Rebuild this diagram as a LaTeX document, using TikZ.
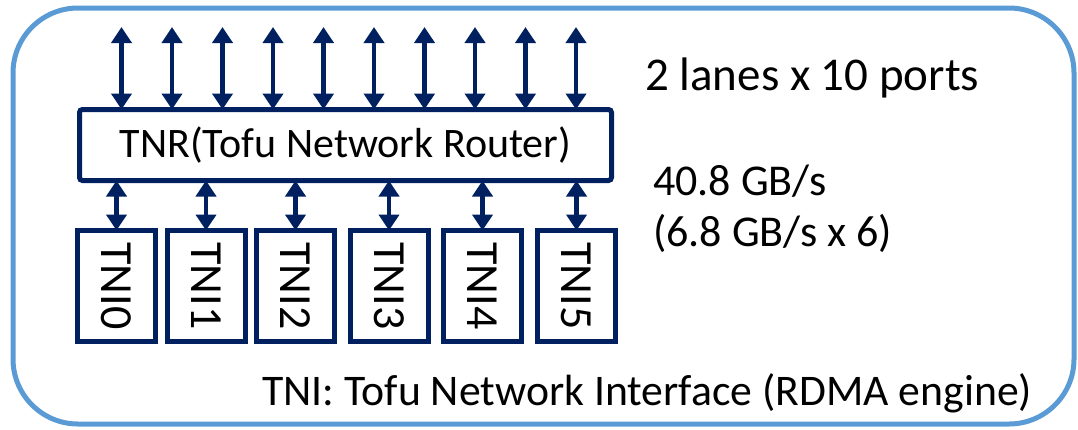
\documentclass[tikz,border=0pt]{standalone}
\usepackage{fontspec}
\setmainfont{Carlito}
\usetikzlibrary{arrows.meta}
\definecolor{navy}{HTML}{002060}
\definecolor{frameblue}{HTML}{5B9BD5}
\tikzset{
  box/.style={draw=navy, line width=5pt, fill=white, inner sep=0pt, outer sep=0pt},
  tnibox/.style={box, minimum width=78pt, minimum height=111pt, font=\fontsize{46}{50}\selectfont},
  link/.style={draw=navy, line width=4.5pt, {Triangle[width=20pt,length=16pt]}-{Triangle[width=20pt,length=16pt]}},
  lbl/.style={inner sep=0pt, anchor=base west, font=\fontsize{43}{50}\selectfont},
}
\begin{document}
\begin{tikzpicture}[x=1pt,y=-1pt]
\useasboundingbox (0,0) rectangle (1078,429);
\draw[frameblue, line width=5pt, rounded corners=65pt] (13,8) rectangle (1074,424);
\node[box, rounded corners=3pt, minimum width=532pt, minimum height=71pt] (tnr) at (345.5,145) {};
\node[inner sep=0pt, font=\fontsize{42}{50}\selectfont] (tnrtext) at (tnr.center) {TNR(Tofu Network Router)};
\foreach \i/\x in {1/121.5,2/172,3/222.5,4/273,5/323.5,6/374,7/424.5,8/475,9/525.5,10/576} {
  \coordinate (p\i) at (\x,27);
  \draw[link] (p\i) -- (p\i |- tnr.north);
}
\foreach \i/\x in {0/116.5,1/206,2/295.5,3/389,4/482.5,5/576.5} {
  \node[tnibox] (tni\i) at (\x,286) {\rotatebox{-90}{TNI\i}};
  \draw[link] (tni\i.north |- tnr.south) -- (tni\i.north);
}
\node[lbl, font=\fontsize{47}{50}\selectfont] (lanes) at (645,90) {2 lanes x 10 ports};
\node[lbl, font=\fontsize{44}{48}\selectfont] (bw) at (653,195) {40.8 GB/s};
\node[lbl, font=\fontsize{44}{48}\selectfont] (bw2) at (653,246) {(6.8 GB/s x 6)};
\node[lbl, font=\fontsize{43.7}{50}\selectfont] (tnidef) at (262,405) {TNI: Tofu Network Interface (RDMA engine)};
\end{tikzpicture}
\end{document}
